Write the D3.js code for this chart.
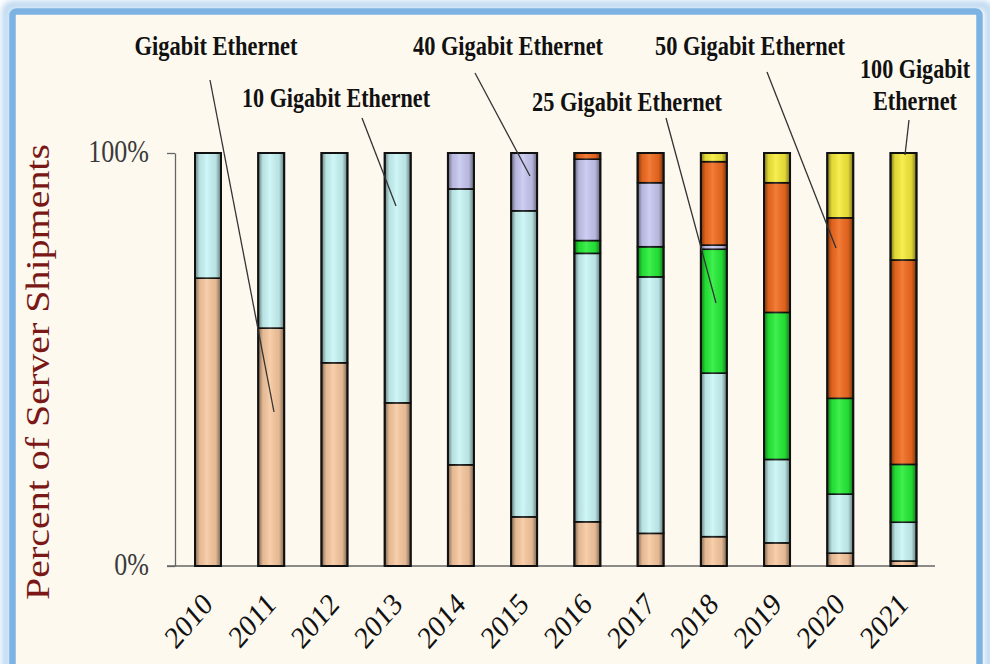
<!DOCTYPE html>
<html>
<head>
<meta charset="utf-8">
<script src="https://cdn.jsdelivr.net/npm/d3@7"></script>
<style>
  html, body { margin: 0; padding: 0; background: #ffffff; }
  svg { display: block; }
</style>
</head>
<body>
<svg id="chart" width="990" height="664"></svg>
<script>
// data (percent of server shipments per year)
var years = ["2010", "2011", "2012", "2013", "2014", "2015", "2016", "2017", "2018", "2019", "2020", "2021"];
var seriesNames = ["Gigabit Ethernet", "10 Gigabit Ethernet", "25 Gigabit Ethernet", "40 Gigabit Ethernet", "50 Gigabit Ethernet", "100 Gigabit Ethernet"];
var gbe     = [69.7, 57.6, 49.2, 39.5, 24.5, 11.9, 10.7, 7.9, 7.1, 5.6, 3.1, 1.2];
var gbe10   = [30.3, 42.4, 50.8, 60.5, 66.8, 74.1, 65.0, 62.1, 39.6, 20.2, 14.3, 9.4];
var gbe25   = [0, 0, 0, 0, 0, 0, 3.1, 7.3, 30.0, 35.6, 23.2, 14.0];
var gbe40   = [0, 0, 0, 0, 8.7, 14.0, 19.7, 15.5, 1.0, 0, 0, 0];
var gbe50   = [0, 0, 0, 0, 0, 0, 1.5, 7.2, 20.2, 31.4, 43.7, 49.5];
var gbe100  = [0, 0, 0, 0, 0, 0, 0, 0, 2.1, 7.2, 15.7, 25.9];
var yTicks = [0, 100];
var yTickLabels = ["0%", "100%"];
var colors = ["#f8c9a0", "#c9f6f6", "#26ee38", "#c8c8f2", "#f26b1f", "#f6ec3a"];

var svg = d3.select("#chart");
var SY = 1.19; // the source picture is stretched vertically

// frame
var defs = svg.append("defs");
var blur = defs.append("filter").attr("id", "glow").attr("x", "-5%").attr("y", "-5%").attr("width", "110%").attr("height", "110%");
blur.append("feGaussianBlur").attr("stdDeviation", 3);

svg.append("rect").attr("x", 6).attr("y", 5).attr("width", 983).attr("height", 720)
    .attr("rx", 6).attr("fill", "none").attr("stroke", "#b9d6ef").attr("stroke-width", 8)
    .attr("filter", "url(#glow)");
svg.append("rect").attr("x", 12.5).attr("y", 11.5).attr("width", 967).attr("height", 720)
    .attr("rx", 4).attr("fill", "#fdf9ef").attr("stroke", "#7db3e3").attr("stroke-width", 6.5);

// bar shading
var shade = defs.append("linearGradient").attr("id", "shade").attr("x1", 0).attr("x2", 1).attr("y1", 0).attr("y2", 0);
shade.append("stop").attr("offset", "0%").attr("stop-color", "#000").attr("stop-opacity", 0.5);
shade.append("stop").attr("offset", "18%").attr("stop-color", "#000").attr("stop-opacity", 0.08);
shade.append("stop").attr("offset", "45%").attr("stop-color", "#fff").attr("stop-opacity", 0.12);
shade.append("stop").attr("offset", "80%").attr("stop-color", "#000").attr("stop-opacity", 0.08);
shade.append("stop").attr("offset", "100%").attr("stop-color", "#000").attr("stop-opacity", 0.5);

var x = d3.scalePoint().domain(years).range([208, 903.5]);
var y = d3.scaleLinear().domain([0, 100]).range([566, 153]);
var barW = 26;

var rows = years.map(function(yr, i) {
    return { year: yr, s0: gbe[i], s1: gbe10[i], s2: gbe25[i], s3: gbe40[i], s4: gbe50[i], s5: gbe100[i] };
});
var keys = ["s0", "s1", "s2", "s3", "s4", "s5"];
var stacked = d3.stack().keys(keys)(rows);

// axes
var yAxis = d3.axisLeft(y).tickValues(yTicks).tickSizeInner(8).tickSizeOuter(0).tickFormat("");
var gy = svg.append("g").attr("transform", "translate(175,0)").call(yAxis);
gy.selectAll("path, line").attr("stroke", "#666").attr("stroke-width", 1.3);

svg.append("line").attr("x1", 167).attr("x2", 935).attr("y1", y(0)).attr("y2", y(0))
    .attr("stroke", "#666").attr("stroke-width", 1.3);

function stretchedText(g, px, py, str, size, w) {
    var t = g.append("text")
        .attr("transform", "translate(" + px + "," + py + ") scale(1," + SY + ")")
        .attr("font-size", size)
        .text(str);
    if (w) t.attr("textLength", w).attr("lengthAdjust", "spacingAndGlyphs");
    return t;
}

var labels = svg.append("g").attr("font-family", "'Liberation Serif', 'Times New Roman', serif").attr("fill", "#3a3a3a");
yTicks.forEach(function(v, i) {
    stretchedText(labels, 149, y(v) + 9, yTickLabels[i], 26).attr("text-anchor", "end");
});

// y title
svg.append("text")
    .attr("transform", "translate(49," + 372 + ") rotate(-90)")
    .attr("text-anchor", "middle")
    .attr("font-family", "'Liberation Serif', 'Times New Roman', serif")
    .attr("font-size", 34)
    .attr("fill", "#7a1717")
    .attr("textLength", 456).attr("lengthAdjust", "spacingAndGlyphs")
    .text("Percent of Server Shipments");

// bars
var layer = svg.append("g").selectAll("g").data(stacked).join("g")
    .attr("fill", function(d, i) { return colors[i]; });
layer.selectAll("rect").data(function(d) { return d.filter(function(p) { return p[1] - p[0] > 0; }); }).join("rect")
    .attr("x", function(d) { return x(d.data.year) - barW / 2; })
    .attr("y", function(d) { return y(d[1]); })
    .attr("width", barW)
    .attr("height", function(d) { return y(d[0]) - y(d[1]); })
    .attr("stroke", "#111")
    .attr("stroke-width", 1.6);

svg.append("g").selectAll("rect").data(years).join("rect")
    .attr("x", function(d) { return x(d) - barW / 2; })
    .attr("y", y(100))
    .attr("width", barW)
    .attr("height", y(0) - y(100))
    .attr("fill", "url(#shade)")
    .attr("stroke", "#111")
    .attr("stroke-width", 2);

// x labels
var xl = svg.append("g").attr("font-family", "'Liberation Serif', 'Times New Roman', serif").attr("fill", "#111");
years.forEach(function(yr) {
    xl.append("text")
        .attr("transform", "translate(" + (x(yr) + 6) + ",606) scale(1,1.16) rotate(-45)")
        .attr("text-anchor", "end")
        .attr("font-size", 27)
        .text(yr);
});

// callouts
var callouts = [
    { name: seriesNames[0], lines: ["Gigabit Ethernet"], cx: 216, by: [55], w: [163], from: [210, 80], to: [274, 412] },
    { name: seriesNames[1], lines: ["10 Gigabit Ethernet"], cx: 336, by: [107], w: [188], from: [362, 118], to: [396, 206] },
    { name: seriesNames[3], lines: ["40 Gigabit Ethernet"], cx: 508, by: [55], w: [190], from: [475, 73], to: [530, 176] },
    { name: seriesNames[2], lines: ["25 Gigabit Ethernet"], cx: 627, by: [111], w: [190], from: [666, 118], to: [716, 303] },
    { name: seriesNames[4], lines: ["50 Gigabit Ethernet"], cx: 750, by: [55], w: [190], from: [767, 72], to: [836, 248] },
    { name: seriesNames[5], lines: ["100 Gigabit", "Ethernet"], cx: 915, by: [78, 110], w: [110, 84], from: [909, 120], to: [905, 155] }
];
var cg = svg.append("g").attr("font-family", "'Liberation Serif', 'Times New Roman', serif")
    .attr("font-weight", "bold").attr("fill", "#111");
callouts.forEach(function(c) {
    svg.append("line").attr("x1", c.from[0]).attr("y1", c.from[1]).attr("x2", c.to[0]).attr("y2", c.to[1])
        .attr("stroke", "#333").attr("stroke-width", 1.3);
    c.lines.forEach(function(l, i) {
        stretchedText(cg, c.cx, c.by[i], l, 23, c.w[i]).attr("text-anchor", "middle");
    });
});
</script>
</body>
</html>
